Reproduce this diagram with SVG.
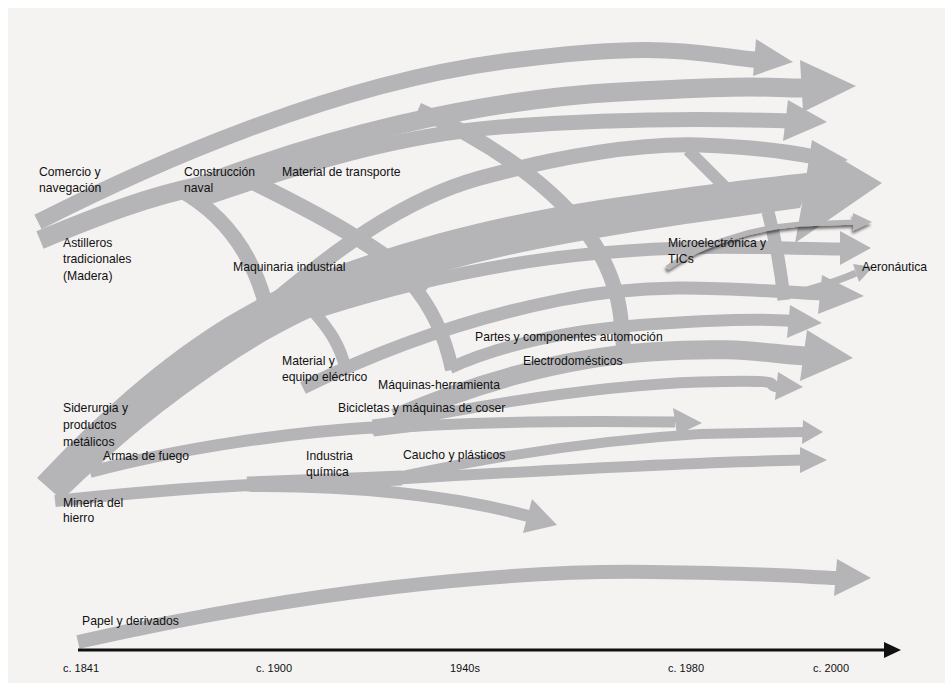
<svg xmlns="http://www.w3.org/2000/svg" width="945" height="683" viewBox="0 0 945 683">
<style>
.bg{fill:#f5f3f2}
.f{fill:none;stroke:#b5b5b8;stroke-linecap:butt;stroke-linejoin:round}
.h{fill:#b5b5b8}
.t{font-family:"Liberation Sans",Arial,sans-serif;font-size:12.2px;fill:#111}
.ax{font-family:"Liberation Sans",Arial,sans-serif;font-size:11px;fill:#111}
</style>
<defs>
<filter id="sh" x="-10%" y="-50%" width="120%" height="200%">
<feGaussianBlur in="SourceAlpha" stdDeviation="1.6"/>
<feOffset dx="-1" dy="3" result="b"/>
<feComponentTransfer><feFuncA type="linear" slope="0.55"/></feComponentTransfer>
<feMerge><feMergeNode/><feMergeNode in="SourceGraphic"/></feMerge>
</filter>
</defs>
<rect x="0" y="0" width="945" height="683" fill="#ffffff"/>
<rect class="bg" x="8" y="8" width="937" height="675"/>

<g id="connectors">
<!-- top flows -->
<path class="f" stroke-width="16" d="M38,222 C 150,165 330,85 500,62 S 700,55 758,60"/>
<polygon class="h" points="756,39 793,62 753,76"/>
<path class="f" stroke-width="19" d="M40,240 C 100,215 150,196 200,186 C 320,140 470,100 620,92 S 760,88 805,88"/>
<polygon class="h" points="800,60 856,86 803,112"/>
<path class="f" stroke-width="15" d="M200,200 C 300,165 400,135 500,127 S 700,118 790,121"/>
<polygon class="h" points="788,100 827,122 783,141"/>
<path class="f" stroke-width="15" d="M278,298 C 330,255 400,200 480,178 S 640,143 700,145 S 790,152 815,157"/>
<polygon class="h" points="812,140 848,160 806,178"/>

<!-- big Siderurgia band -->
<path class="h" d="M37,478 C 110,400 200,320 300,280 S 500,215 600,200 S 760,178 815,172 L 800,208 C 700,222 560,240 460,267 S 300,315 220,370 S 110,455 62,500 Z"/>
<polygon class="h" points="813,142 882,183 795,243"/>

<!-- meridian arcs -->
<path class="f" stroke-width="15" d="M180,190 C 225,215 252,255 265,302"/>
<path class="f" stroke-width="16" d="M255,183 C 320,215 375,245 428,288"/>
<path class="f" stroke-width="15" d="M418,110 C 500,145 570,200 598,250 S 620,330 625,358"/>
<path class="f" stroke-width="12" d="M688,150 L 730,192"/>
<path class="f" stroke-width="13" d="M768,212 C 776,242 781,270 784,300"/>
<path class="f" stroke-width="12" d="M312,310 C 330,330 340,345 346,370"/>
<path class="f" stroke-width="14" d="M410,282 C 430,305 445,335 452,370"/>

<!-- middle flows -->
<path class="f" stroke-width="13" d="M316,312 C 400,285 500,262 600,253 S 760,248 842,249"/>
<polygon class="h" points="840,231 871,248 840,265"/>
<path class="f" stroke-width="13" d="M303,388 C 380,350 470,318 560,300 S 720,288 822,294"/>
<polygon class="h" points="822,275 864,296 818,314"/>
<path class="f" stroke-width="7" d="M800,292 C 825,285 845,278 856,273"/>
<polygon class="h" points="853,264 873,267 859,282"/>
<path class="f" stroke-width="12" d="M450,368 C 500,345 570,330 640,325 S 760,318 792,321"/>
<polygon class="h" points="790,305 822,323 787,338"/>
<path class="f" stroke-width="19" d="M395,418 C 470,385 560,358 650,352 S 760,353 805,356"/>
<polygon class="h" points="807,330 853,358 800,381"/>
<path class="f" stroke-width="11" d="M375,426 C 480,405 600,385 700,382 S 760,385 778,387"/>
<polygon class="h" points="778,372 803,387 775,400"/>
<path class="f" stroke-width="11" d="M372,429 C 480,420 600,421 675,422"/>
<polygon class="h" points="673,408 702,423 677,435"/>

<!-- Armas / Bicicletas -->
<path class="f" stroke-width="12" d="M90,472 C 180,448 290,432 380,427"/>
<path class="f" stroke-width="17" d="M373,428 L 440,420"/>

<!-- Mineria -->
<path class="f" stroke-width="12" d="M55,501 C 120,494 190,488 250,485"/>
<path class="f" stroke-width="15" d="M247,484 C 300,482 350,480 402,478"/>
<path class="f" stroke-width="12" d="M250,486 C 350,485 450,495 528,516"/>
<polygon class="h" points="532,499 557,525 523,533"/>
<path class="f" stroke-width="11" d="M398,479 C 550,470 700,462 801,460"/>
<polygon class="h" points="800,447 827,460 800,473"/>
<path class="f" stroke-width="10" d="M398,477 C 500,455 600,440 700,434 L 804,432"/>
<polygon class="h" points="803,420 823,432 802,444"/>

<!-- Microelectronica thin arrow -->
<g filter="url(#sh)">
<path class="f" stroke-width="5" d="M667,268 C 700,245 750,228 800,224 L 856,222"/>
<polygon class="h" points="853,213 872,222 853,231"/>
</g>

<!-- Papel -->
<path class="f" stroke-width="14" d="M78,642 C 300,592 500,570 650,572 S 800,577 838,578"/>
<polygon class="h" points="837,559 871,578 834,596"/>

<!-- time axis -->
<line x1="78" y1="650" x2="886" y2="650" stroke="#111" stroke-width="3"/>
<polygon fill="#111" points="884,642 901,650 884,658"/>
</g>

<g id="n-comercio"><text class="t" x="39" y="176">Comercio y</text><text class="t" x="39" y="192">navegación</text></g>
<g id="n-astilleros"><text class="t" x="63" y="247">Astilleros</text><text class="t" x="63" y="263">tradicionales</text><text class="t" x="63" y="280">(Madera)</text></g>
<g id="n-construccion"><text class="t" x="184" y="176">Construcción</text><text class="t" x="184" y="192">naval</text></g>
<g id="n-transporte"><text class="t" x="282" y="176">Material de transporte</text></g>
<g id="n-maquinaria"><text class="t" x="233" y="271">Maquinaria industrial</text></g>
<g id="n-micro"><text class="t" x="668" y="247">Microelectrónica y</text><text class="t" x="668" y="263">TICs</text></g>
<g id="n-aero"><text class="t" x="862" y="271">Aeronáutica</text></g>
<g id="n-partes"><text class="t" x="475" y="341">Partes y componentes automoción</text></g>
<g id="n-electro"><text class="t" x="523" y="365">Electrodomésticos</text></g>
<g id="n-electrico"><text class="t" x="282" y="365">Material y</text><text class="t" x="282" y="381">equipo eléctrico</text></g>
<g id="n-maqherr"><text class="t" x="378" y="389">Máquinas-herramienta</text></g>
<g id="n-siderurgia"><text class="t" x="63" y="412">Siderurgia y</text><text class="t" x="63" y="429">productos</text><text class="t" x="63" y="446">metálicos</text></g>
<g id="n-bicicletas"><text class="t" x="338" y="412">Bicicletas y máquinas de coser</text></g>
<g id="n-armas"><text class="t" x="103" y="460">Armas de fuego</text></g>
<g id="n-quimica"><text class="t" x="306" y="460">Industria</text><text class="t" x="306" y="476">química</text></g>
<g id="n-caucho"><text class="t" x="403" y="459">Caucho y plásticos</text></g>
<g id="n-mineria"><text class="t" x="63" y="507">Minería del</text><text class="t" x="63" y="522">hierro</text></g>
<g id="n-papel"><text class="t" x="82" y="625">Papel y derivados</text></g>
<g id="axis-labels">
<text class="ax" x="63" y="672">c. 1841</text>
<text class="ax" x="256" y="672">c. 1900</text>
<text class="ax" x="450" y="672">1940s</text>
<text class="ax" x="668" y="672">c. 1980</text>
<text class="ax" x="813" y="672">c. 2000</text>
</g>
</svg>
